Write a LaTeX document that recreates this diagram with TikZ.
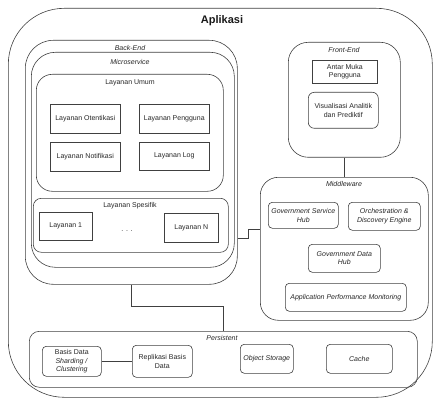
\documentclass[tikz,border=0pt]{standalone}
\usepackage{fontspec}
\setmainfont{Liberation Sans}
\begin{document}
\begin{tikzpicture}[x=1pt,y=-1pt,
  lc/.style={draw=black!75, line width=0.6pt},
  box/.style={lc, inner sep=0pt, anchor=north west, align=center,
    font=\fontsize{7}{8.5}\selectfont, text=black!85},
  itbox/.style={box, font=\fontsize{7}{8.5}\selectfont\itshape},
  lbl/.style={font=\fontsize{7}{8}\selectfont, text=black!85, inner sep=0pt},
  itlbl/.style={lbl, font=\fontsize{7}{8}\selectfont\itshape},
  link/.style={draw=black!75, line width=0.6pt}]
\useasboundingbox (0,0) rectangle (433,398);

% outer application frame
\node[box, rounded corners=56pt, minimum width=424pt, minimum height=389pt] (app) at (8,8) {};
\node[font=\bfseries\fontsize{11}{13}\selectfont, text=black!90] (tApp) at (222,21) {Aplikasi};

% back-end
\node[box, rounded corners=28pt, minimum width=212pt, minimum height=244pt] (be) at (25,40) {};
\node[itlbl] (tBe) at (130,48) {Back-End};
\node[box, rounded corners=24pt, minimum width=203pt, minimum height=215pt] (ms) at (31,52) {};
\node[itlbl] (tMs) at (130,62) {Microservice};

\node[box, rounded corners=16pt, minimum width=187pt, minimum height=117pt] (lu) at (36,74) {};
\node[lbl] (tLu) at (130,83) {Layanan Umum};
\node[box, minimum width=70pt, minimum height=29pt] (otn) at (50,104) {Layanan Otentikasi};
\node[box, minimum width=70pt, minimum height=29pt] (pgn) at (139,104) {Layanan Pengguna};
\node[box, minimum width=70pt, minimum height=29pt] (ntf) at (50,142) {Layanan Notifikasi};
\node[box, minimum width=70pt, minimum height=28pt] (log) at (139,142) {Layanan Log};

\node[box, rounded corners=8pt, minimum width=195pt, minimum height=54pt] (lsp) at (33,198) {};
\node[lbl] (tLsp) at (130,206) {Layanan Spesifik};
\node[box, minimum width=53pt, minimum height=28pt] (l1) at (39,212) {Layanan 1};
\node[box, minimum width=54pt, minimum height=29pt] (lN) at (164,213) {Layanan N};
\node[lbl] (dots) at (127,231) {. . .};

% front-end
\node[box, rounded corners=20pt, minimum width=112pt, minimum height=115pt] (fe) at (288,42) {};
\node[itlbl] (tFe) at (344,50) {Front-End};
\node[box, minimum width=65pt, minimum height=23pt] (ui) at (312,60) {Antar Muka\\Pengguna};
\node[box, rounded corners=6pt, minimum width=70pt, minimum height=36pt] (vis) at (308,92) {Visualisasi Analitik\\dan Prediktif};

% middleware
\node[box, rounded corners=18pt, minimum width=168pt, minimum height=143pt] (mw) at (260,177) {};
\node[itlbl] (tMw) at (344,184) {Middleware};
\node[itbox, rounded corners=4pt, minimum width=70pt, minimum height=26pt] (gsh) at (268,202) {Government Service\\Hub};
\node[itbox, rounded corners=4pt, minimum width=72pt, minimum height=28pt] (orc) at (348,202) {Orchestration \&\\Discovery Engine};
\node[itbox, rounded corners=4pt, minimum width=72pt, minimum height=28pt] (gdh) at (308,244) {Government Data\\Hub};
\node[itbox, rounded corners=4pt, minimum width=121pt, minimum height=28pt] (apm) at (285,283) {Application Performance Monitoring};

% persistent layer
\node[box, rounded corners=10pt, minimum width=388pt, minimum height=56pt] (ps) at (29,331) {};
\node[itlbl] (tPs) at (222,338) {Persistent};
\node[box, rounded corners=4pt, minimum width=59pt, minimum height=30pt] (bd) at (42,346) {Basis Data\\\textit{Sharding /}\\\textit{Clustering}};
\node[box, rounded corners=4pt, minimum width=60pt, minimum height=32pt] (rp) at (132,345) {Replikasi Basis\\Data};
\node[itbox, rounded corners=4pt, minimum width=53pt, minimum height=29pt] (obj) at (240,344) {Object Storage};
\node[itbox, rounded corners=4pt, minimum width=66pt, minimum height=29pt] (cch) at (326,344) {Cache};

% connectors
\coordinate (y238) at (0,238);
\coordinate (y229) at (0,229);
\draw[link] (be.east |- y238) -- ++(11,0) |- (mw.west |- y229);
\draw[link] (fe.south) -- (fe.south |- mw.north);
\draw[link] (be.south) -- ++(0,22) -| (ps.north);
\draw[link] (bd.east) -- (rp.west);
\end{tikzpicture}
\end{document}
